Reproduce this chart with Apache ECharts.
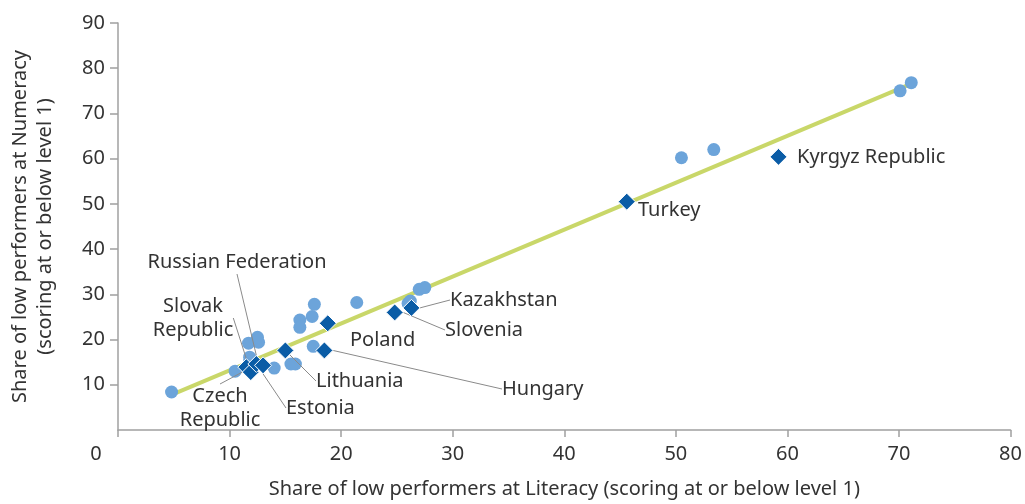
<!DOCTYPE html>
<html>
<head>
<meta charset="UTF-8"/>
<title>Low performers: literacy vs numeracy</title>
<script src="https://cdn.jsdelivr.net/npm/echarts@6/dist/echarts.min.js"></script>
<style>
  html, body { margin: 0; padding: 0; background: #fff; }
  #main { width: 1025px; height: 504px; }
</style>
</head>
<body>
<div id="main"></div>
<script>
// other countries (light blue circles)
var otherLit = [4.8, 10.5, 11.7, 12.6, 12.5, 11.8, 11.8, 14.0, 15.5, 15.9, 16.3, 16.3, 17.6, 17.4, 17.5, 21.4, 26.0, 26.2, 27.0, 27.5, 50.5, 53.4, 70.1, 71.1];
var otherNum = [8.4, 13.0, 19.2, 19.4, 20.5, 16.1, 15.2, 13.7, 14.6, 14.6, 24.3, 22.7, 27.8, 25.1, 18.5, 28.2, 28.0, 28.5, 31.1, 31.5, 60.2, 62.0, 75.0, 76.8];

// labelled countries (dark blue diamonds)
var countries = ['Slovak\nRepublic', 'Czech\nRepublic', 'Russian Federation', 'Estonia', 'Lithuania', 'Poland', 'Hungary', 'Slovenia', 'Kazakhstan', 'Turkey', 'Kyrgyz Republic'];
var countryLit = [11.5, 11.9, 12.4, 13.0, 15.0, 18.8, 18.5, 24.8, 26.3, 45.6, 59.2];
var countryNum = [13.9, 12.8, 14.6, 14.3, 17.6, 23.6, 17.6, 26.0, 27.0, 50.5, 60.4];

// fitted line end points
var trendLit = [5.0, 71.5];
var trendNum = [8.0, 77.0];

// where each country label sits (pixels), and whether it has a leader line
var labelPos = {
    'Russian Federation': { x: 237, y: 262, align: 'center', line: true },
    'Slovak\nRepublic': { x: 193, y: 318, align: 'center', line: true },
    'Czech\nRepublic': { x: 220, y: 408, align: 'center', line: true },
    'Estonia': { x: 286, y: 408, align: 'left', line: true },
    'Lithuania': { x: 316, y: 381, align: 'left', line: true },
    'Poland': { x: 350, y: 340, align: 'left', line: false },
    'Hungary': { x: 502, y: 389, align: 'left', line: true },
    'Kazakhstan': { x: 450, y: 300, align: 'left', line: true },
    'Slovenia': { x: 445, y: 330, align: 'left', line: true },
    'Turkey': { x: 638, y: 210, align: 'left', line: false },
    'Kyrgyz Republic': { x: 797, y: 157, align: 'left', line: false }
};

var font = 'Noto Sans';
var fs = 20;
var textColor = '#333';

var myChart = echarts.init(document.getElementById('main'));

var otherData = otherLit.map(function (v, i) { return [v, otherNum[i]]; });
var trendData = trendLit.map(function (v, i) { return [v, trendNum[i]]; });
var countryData = countries.map(function (c, i) {
    return {
        name: c,
        value: [countryLit[i], countryNum[i]],
        labelLine: { show: labelPos[c].line }
    };
});

var option = {
    animation: false,
    grid: { left: 115, right: 14, top: 23, bottom: 73 },
    xAxis: {
        type: 'value',
        min: 0, max: 80, interval: 10,
        name: 'Share of low performers at Literacy (scoring at or below level 1)',
        nameLocation: 'middle',
        nameGap: 49,
        nameTextStyle: { fontFamily: font, fontSize: fs, color: textColor },
        axisLine: { show: true, onZero: false, lineStyle: { color: '#a0a0a0', width: 1.5 } },
        axisTick: { show: true, length: 7, lineStyle: { color: '#a0a0a0', width: 1.5 } },
        splitLine: { show: false },
        axisLabel: {
            margin: 14,
            fontFamily: font, fontSize: fs, color: textColor,
            formatter: function (v) { return v === 0 ? '{z|0}' : String(v); },
            rich: { z: { fontFamily: font, fontSize: fs, color: textColor, padding: [0, 44, 0, 0] } }
        }
    },
    yAxis: {
        type: 'value',
        min: 0, max: 90, interval: 10,
        name: 'Share of low performers at Numeracy\n(scoring at or below level 1)',
        nameLocation: 'middle',
        nameGap: 60,
        nameTextStyle: { fontFamily: font, fontSize: fs, color: textColor, lineHeight: 25 },
        axisLine: { show: true, lineStyle: { color: '#a0a0a0', width: 1.5 } },
        axisTick: { show: true, length: 8, lineStyle: { color: '#a0a0a0', width: 1.5 } },
        splitLine: { show: false },
        axisLabel: {
            margin: 13,
            showMinLabel: false,
            fontFamily: font, fontSize: fs, color: textColor
        }
    },
    series: [
        {
            type: 'line',
            data: trendData,
            symbol: 'none',
            lineStyle: { color: '#c9d769', width: 4 },
            z: 1
        },
        {
            type: 'scatter',
            data: otherData,
            symbol: 'circle',
            symbolSize: 13,
            itemStyle: { color: '#6ca4da', opacity: 1 },
            z: 2
        },
        {
            type: 'scatter',
            data: countryData,
            symbol: 'diamond',
            symbolSize: 17,
            itemStyle: { color: '#0a5ca6', borderColor: '#fff', borderWidth: 1, opacity: 1 },
            label: {
                show: true,
                formatter: '{b}',
                fontFamily: font, fontSize: fs, color: textColor, lineHeight: 24
            },
            labelLine: { show: true, lineStyle: { color: '#8a8a8a', width: 1 } },
            labelLayout: function (p) {
                var pos = labelPos[countries[p.dataIndex]];
                return { x: pos.x, y: pos.y, align: pos.align, verticalAlign: 'middle' };
            },
            z: 3
        }
    ]
};

myChart.setOption(option);
</script>
</body>
</html>
